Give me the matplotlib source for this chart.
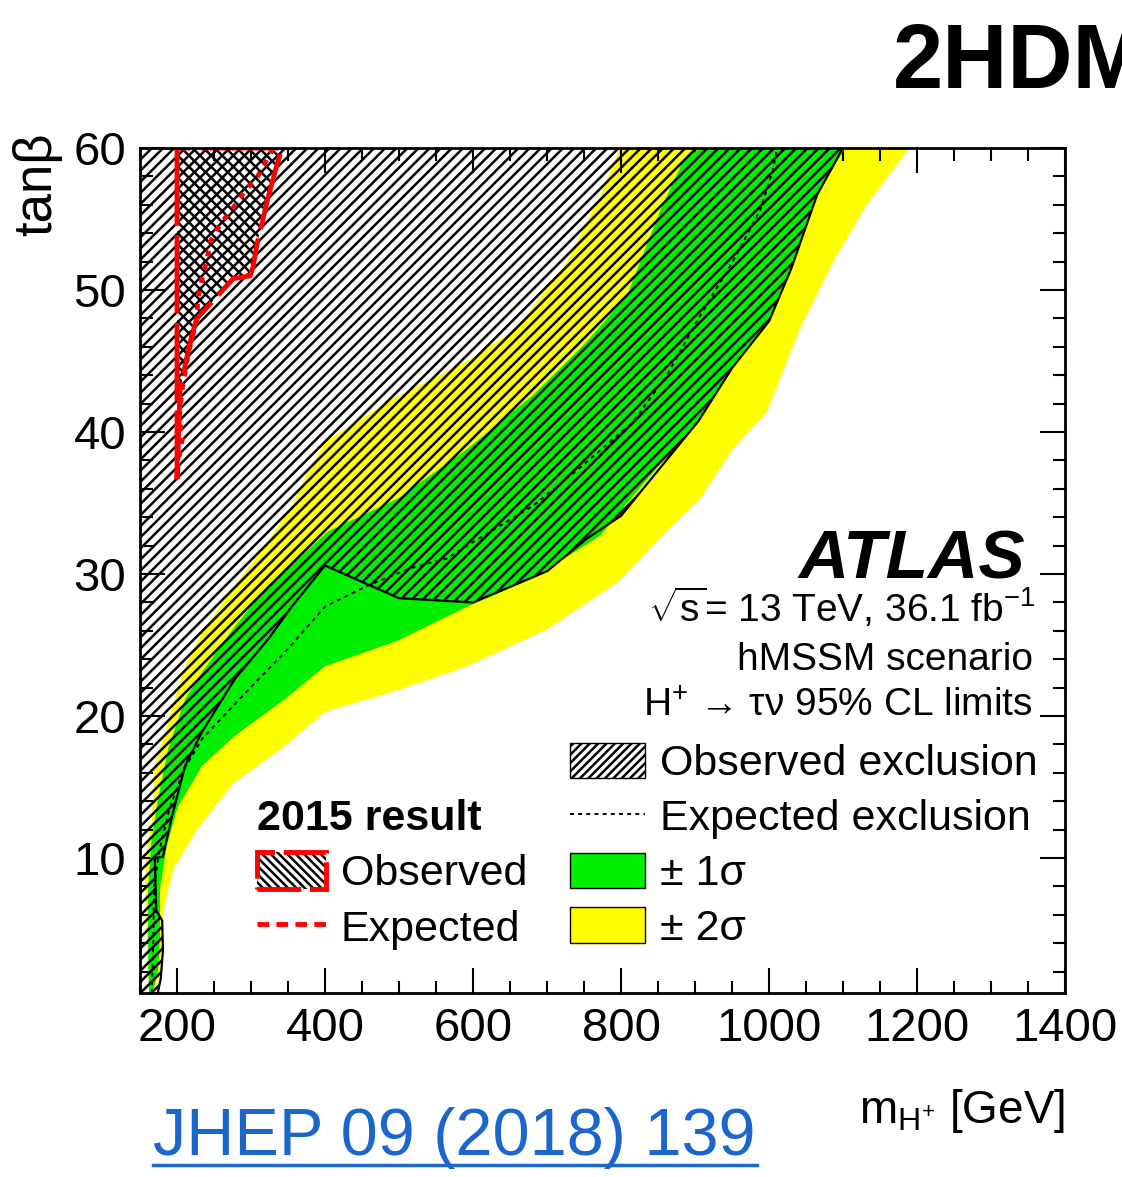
import matplotlib
matplotlib.use('Agg')
import matplotlib.pyplot as plt
from matplotlib.patches import Patch
from matplotlib.lines import Line2D
from matplotlib.ticker import MultipleLocator

plt.rcParams['font.family'] = ['Liberation Sans', 'DejaVu Sans']
plt.rcParams['mathtext.fontset'] = 'custom'
plt.rcParams['mathtext.rm'] = 'Liberation Sans'
plt.rcParams['mathtext.it'] = 'Liberation Sans:italic'
plt.rcParams['mathtext.bf'] = 'Liberation Sans:bold'
plt.rcParams['mathtext.default'] = 'regular'
plt.rcParams['hatch.linewidth'] = 1.8

# axis ranges
m_min, m_max = 150, 1400
tb_min, tb_max = 0.5, 60

# +2 sigma edge (upper-left side of the yellow band), bottom to top
yel_hi_m = [163, 160, 158, 157, 160, 166, 170, 184, 197, 211, 234, 278, 323, 355, 377, 400, 490, 592, 659, 727, 772, 799]
yel_hi_t = [0.5, 3, 6, 9, 11, 12.7, 16.5, 18.9, 21.2, 23.5, 25.9, 29.2, 32.3, 34.8, 37.2, 39.3, 42.3, 45.0, 47.3, 52.0, 56.7, 60]
# -2 sigma edge
yel_lo_m = [170, 177, 180, 181, 195, 227, 275, 346, 400, 498, 592, 700, 795, 862, 907, 951, 997, 1042, 1087, 1132, 1190]
yel_lo_t = [0.5, 2, 4.3, 6.2, 9.2, 12.0, 15.2, 17.9, 20.3, 21.8, 23.5, 26.1, 29.4, 33.0, 35.3, 38.8, 41.4, 47.3, 52.0, 56.0, 60]
# +1 sigma edge
grn_hi_m = [162, 161, 161, 165, 174, 188, 211, 234, 278, 323, 369, 404, 498, 592, 681, 749, 808, 826, 853, 884, 907]
grn_hi_t = [0.5, 4, 8, 11, 14.1, 17.7, 21.2, 23.1, 26.3, 29.2, 31.3, 33.0, 35.3, 38.8, 42.6, 46.1, 49.6, 52.0, 55.6, 59.1, 60]
# -1 sigma edge
grn_lo_m = [167, 174, 177, 177, 186, 201, 234, 278, 346, 400, 498, 592, 681, 772, 816, 862, 907, 951, 1001, 1030, 1066, 1103]
grn_lo_t = [0.5, 2, 4.3, 7.8, 10.8, 13.6, 16.5, 18.6, 21.2, 23.5, 25.3, 27.7, 29.7, 32.7, 35.5, 38.3, 41.0, 44.7, 48.0, 51.7, 56.9, 60]

# observed and expected exclusion contours
obs_m = [174, 178, 181, 180, 172, 171, 170, 181, 193, 211, 234, 278, 323, 355, 400, 500, 600, 700, 754, 800, 905, 950, 1000, 1030, 1065, 1100]
obs_t = [0.5, 1.5, 3.5, 5.6, 6.3, 8, 10, 10.1, 12.9, 16.5, 18.9, 22.6, 25.4, 27.7, 30.6, 28.3, 28.0, 30.2, 32.5, 34.1, 40.8, 44.5, 47.8, 51.5, 56.7, 60]
exp_m = [166, 168, 169, 176, 190, 210, 234, 301, 346, 400, 458, 515, 565, 592, 681, 754, 816, 862, 907, 951, 988, 1005, 1011]
exp_t = [0.5, 4, 8, 10.5, 13.5, 16.3, 18.4, 22.1, 24.5, 27.7, 29.2, 30.4, 31.1, 32.0, 34.8, 37.9, 40.7, 44.0, 48.2, 52.0, 55.6, 58.4, 60]

# 2015 result
obs15_m = [200, 200, 204, 211, 220, 227, 276, 299, 303, 308, 323, 335, 342]
obs15_t = [60, 36.7, 42.9, 44.7, 46.8, 48.0, 50.8, 51.0, 51.7, 53.2, 56.5, 58.8, 60]
exp15_m = [330, 308, 292, 276, 258, 245, 240, 234, 228, 227, 215, 207, 203, 207, 202, 200]
exp15_t = [60, 57.9, 57.0, 55.8, 54.6, 53.4, 52.0, 50.8, 49.4, 48.0, 45.5, 43.0, 41.0, 39.5, 38.0, 36.7]

green = '#00ee00'
yellow = '#ffff00'
red = '#ff0000'
blue = '#1a66cc'

W, H = 1122, 1177
fig = plt.figure(figsize=(W / 100, H / 100), dpi=100)
ax = fig.add_axes([140 / W, 1 - 993 / H, 925 / W, 845 / H])

# bands
ax.fill(yel_hi_m + yel_lo_m[::-1], yel_hi_t + yel_lo_t[::-1], color=yellow, lw=0, zorder=1)
ax.fill(grn_hi_m + grn_lo_m[::-1], grn_hi_t + grn_lo_t[::-1], color=green, lw=0, zorder=2)

# observed exclusion: everything left of the observed contour
ax.fill([m_min] + obs_m + [m_min], [tb_min] + obs_t + [tb_max],
        facecolor='none', edgecolor='black', hatch='///', lw=0, zorder=3)
ax.plot(exp_m, exp_t, color='black', lw=1.4, ls=(0, (2, 2.2)), zorder=4)
ax.plot(obs_m, obs_t, color='black', lw=1.6, zorder=4)

# 2015 result
ax.fill(obs15_m, obs15_t, facecolor='none', edgecolor='black', hatch='\\\\\\', lw=0, zorder=5)
ax.fill(obs15_m, obs15_t, facecolor='none', edgecolor=red, lw=3.5, ls=(0, (16, 2)), zorder=6)
ax.plot(exp15_m, exp15_t, color=red, lw=3.5, ls=(0, (1.2, 1.6)), zorder=6)

ax.set_xlim(m_min, m_max)
ax.set_ylim(tb_min, tb_max)
ax.xaxis.set_major_locator(MultipleLocator(200))
ax.xaxis.set_minor_locator(MultipleLocator(50))
ax.yaxis.set_major_locator(MultipleLocator(10))
ax.yaxis.set_minor_locator(MultipleLocator(2))
ax.tick_params(which='both', direction='in', top=True, right=True, width=1.5, labelsize=34, pad=10)
ax.tick_params(which='major', length=18)
ax.tick_params(which='minor', length=9)
for sp in ax.spines.values():
    sp.set_linewidth(2)
    sp.set_zorder(10)

ax.set_xlabel(r'$\mathregular{m_{H^{+}}}$ [GeV]', fontsize=33, loc='right', labelpad=26)
ax.set_ylabel('tanβ', fontsize=38, loc='top')
ax.yaxis.set_label_coords(-0.084, 1.018)

# labels
ax.text(0.957, 0.491, 'ATLAS', transform=ax.transAxes, ha='right', va='baseline',
        fontsize=50, fontweight='bold', fontstyle='italic')
ax.text(0.968, 0.439, r'$\sqrt{s}$= 13 TeV, 36.1 fb$^{-1}$', transform=ax.transAxes,
        ha='right', va='baseline', fontsize=28)
ax.text(0.965, 0.382, 'hMSSM scenario', transform=ax.transAxes, ha='right', va='baseline', fontsize=28)
ax.text(0.965, 0.327, r'H$^{+}$ → τν 95% CL limits', transform=ax.transAxes,
        ha='right', va='baseline', fontsize=28)

# legends
handles = [Patch(facecolor='white', edgecolor='black', hatch='////', lw=1.0),
           Line2D([], [], color='black', lw=1.4, ls=(0, (2, 2.2))),
           Patch(facecolor=green, edgecolor='black', lw=1.0),
           Patch(facecolor=yellow, edgecolor='black', lw=1.0)]
leg1 = ax.legend(handles, ['Observed exclusion', 'Expected exclusion', '± 1σ', '± 2σ'],
                 loc='upper left', bbox_to_anchor=(570 / W, 1 - 743 / H), bbox_transform=fig.transFigure,
                 frameon=False, fontsize=31, handlelength=1.75, handleheight=0.88,
                 handletextpad=0.35, labelspacing=0.31, borderpad=0, borderaxespad=0)
ax.add_artist(leg1)

h15 = [(Patch(facecolor='white', edgecolor='black', hatch='\\\\\\\\', lw=0),
        Patch(facecolor='none', edgecolor=red, lw=3.5, ls=(0, (9, 1.8)))),
       Line2D([], [], color=red, lw=3.5, ls=(0, (2.4, 1.5)))]
ax.legend(h15, ['Observed', 'Expected'], title='2015 result',
          title_fontproperties={'weight': 'bold', 'size': 31}, alignment='left',
          loc='upper left', bbox_to_anchor=(257 / W, 1 - 799 / H), bbox_transform=fig.transFigure,
          frameon=False, fontsize=31, handlelength=1.6, handleheight=0.93,
          handletextpad=0.35, labelspacing=0.31, borderpad=0, borderaxespad=0)

fig.text(893 / W, 1 - 88 / H, '2HDM', fontsize=65, fontweight='bold',
         family=['Liberation Sans Narrow', 'Liberation Sans', 'DejaVu Sans'], ha='left', va='baseline')
fig.text(153 / W, 1 - 1155 / H, 'JHEP 09 (2018) 139', color=blue, fontsize=48, ha='left', va='baseline')
fig.add_artist(Line2D([153 / W, 757 / W], [1 - 1165 / H] * 2, color=blue, lw=2.5))

fig.savefig('out.png', dpi=100)
